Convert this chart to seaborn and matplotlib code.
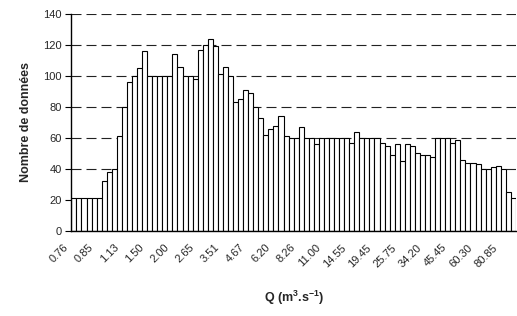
import matplotlib
matplotlib.use("Agg")
import matplotlib.pyplot as plt
import matplotlib.transforms as mtransforms
import seaborn as sns
import numpy as np
import pandas as pd

# Data
counts = [21, 21, 21, 21, 21, 21, 32, 38, 40, 61,
          80, 96, 100, 105, 116, 100, 100, 100, 100, 100,
          114, 106, 100, 100, 98, 117, 120, 124, 119, 101,
          106, 100, 83, 85, 91, 89, 80, 73, 62, 66,
          68, 74, 61, 60, 60, 67, 60, 60, 56, 60,
          60, 60, 60, 60, 60, 57, 64, 60, 60, 60,
          60, 57, 55, 49, 56, 45, 56, 55, 50, 49,
          49, 48, 60, 60, 60, 57, 59, 46, 44, 44,
          43, 40, 40, 41, 42, 40, 25, 21]
tick_labels = ["0.76", "0.85", "1.13", "1.50", "2.00", "2.65", "3.51", "4.67", "6.20",
               "8.26", "11.00", "14.55", "19.45", "25.75", "34.20", "45.45", "60.30", "80.85"]
label_step = 5
y_ticks = [0, 20, 40, 60, 80, 100, 120, 140]

sns.set_theme(style="white")
plt.rcParams['font.family'] = ['Liberation Sans', 'DejaVu Sans']
plt.rcParams['mathtext.fontset'] = 'custom'
plt.rcParams['mathtext.bf'] = 'Liberation Sans:bold'
plt.rcParams['mathtext.rm'] = 'Liberation Sans'

df = pd.DataFrame({"bin": np.arange(len(counts)), "count": counts})

fig = plt.figure(figsize=(5.17, 3.16), dpi=100)
ax = fig.add_axes([0.138, 0.269, 0.860, 0.687])

sns.barplot(data=df, x="bin", y="count", color="white", edgecolor="black",
            linewidth=0.8, width=1.0, saturation=1, ax=ax)
for p in ax.patches:
    p.set_zorder(3)

ax.set_ylim(0, 140)
ax.set_xlim(-0.5, len(counts) - 0.5)
ax.set_yticks(y_ticks)
ax.set_yticklabels([str(v) for v in y_ticks], fontsize=8)
ax.grid(False)
for v in y_ticks[1:]:
    ax.axhline(v, linestyle=(0, (9, 4.5)), color="#222222", linewidth=0.8, zorder=1)

pos = np.arange(0, len(counts), label_step)[:len(tick_labels)]
ax.set_xticks(pos)
ax.set_xticks(np.arange(-0.5, len(counts), 1.0), minor=True)
ax.tick_params(axis="x", which="major", length=0, pad=6)
ax.tick_params(axis="x", which="minor", direction="inout", length=5, width=0.8, color="black")
ax.tick_params(axis="y", which="major", direction="out", length=4, width=0.8, color="black", left=True, pad=3)
ax.set_xticklabels(tick_labels, rotation=45, ha="right", rotation_mode="anchor", fontsize=8)

for s in ["top", "right"]:
    ax.spines[s].set_visible(False)
for s in ["left", "bottom"]:
    ax.spines[s].set_color("black")
    ax.spines[s].set_linewidth(1.0)
    ax.spines[s].set_zorder(4)

ax.set_ylabel("Nombre de données", fontsize=9, fontweight="bold", labelpad=8)
ax.set_xlabel(r"Q (m$^{\mathbf{3}}$.s$^{\mathbf{-1}}$)", fontsize=9, fontweight="bold", labelpad=14)

offset = mtransforms.ScaledTranslation(-0.11, -0.03, fig.dpi_scale_trans)
for lbl in ax.get_xticklabels():
    lbl.set_transform(lbl.get_transform() + offset)

fig.savefig("out.png", dpi=100)
